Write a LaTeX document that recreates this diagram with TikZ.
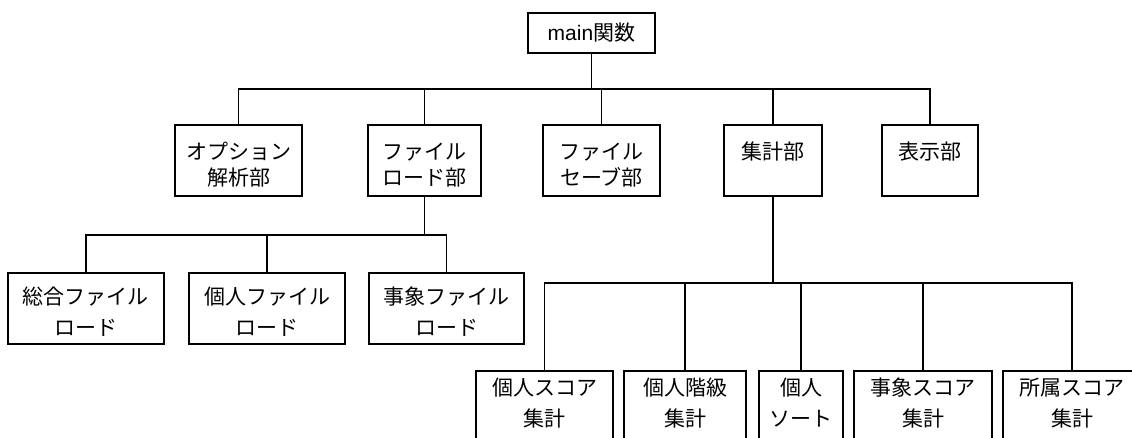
\documentclass[tikz,border=0pt]{standalone}
\usepackage{fontspec}
\setmainfont{Liberation Sans}
\newfontfamily\cjk{Noto Sans CJK JP}
\usetikzlibrary{calc,positioning}

\tikzset{
  box/.style={draw, line width=1.8pt, inner sep=0pt, align=center},
  upper/.style={box, minimum height=71pt, text height=60pt, text depth=9.4pt,
    font=\cjk\fontsize{21}{26}\selectfont},
  lower/.style={box, minimum height=71pt, text height=62pt, text depth=7.8pt,
    font=\cjk\fontsize{21}{31}\selectfont},
  bottom/.style={lower, minimum height=72pt, text height=54pt, text depth=16pt},
  wire/.style={line width=1.8pt},
}

\begin{document}
\begin{tikzpicture}[x=1pt,y=-1pt]
\useasboundingbox (0,0) rectangle (1132,437);
% top
\node[box, minimum width=127pt, minimum height=40pt, font=\fontsize{21}{25}\selectfont] (main) at (591.5,33) {main{\cjk 関数}};
% level 1
\node[upper, minimum width=127pt] (opt)   at (238.5,160.5) {オプション\\解析部};
\node[upper, minimum width=113pt] (fload) at (424.5,160.5) {ファイル\\ロード部};
\node[upper, minimum width=117pt] (fsave) at (601.5,160.5) {ファイル\\セーブ部};
\node[upper, minimum width=98pt]  (agg)   at (773,160.5)   {集計部\\~};
\node[upper, minimum width=96pt]  (disp)  at (930,160.5)   {表示部\\~};
% level 2
\node[lower, minimum width=156pt] (ldall) at (86,308.5)    {総合ファイル\\ロード};
\node[lower, minimum width=156pt] (ldper) at (267,308.5)   {個人ファイル\\ロード};
\node[lower, minimum width=155pt] (ldevt) at (446.5,308.5) {事象ファイル\\ロード};
% level 3
\node[bottom, minimum width=137pt] (perscore) at (544.5,407) {個人スコア\\集計};
\node[bottom, minimum width=122pt] (perrank)  at (685,407)   {個人階級\\集計};
\node[bottom, minimum width=84pt]  (persort)  at (801,407)   {個人\\ソート};
\node[bottom, minimum width=138pt] (evtscore) at (923,407)   {事象スコア\\集計};
\node[bottom, minimum width=138pt] (grpscore) at (1072,407)  {所属スコア\\集計};

% connectors
\coordinate (bus1) at (591.5,89);
\coordinate (bus2) at (424.5,235);
\coordinate (bus3) at (773,283);
\draw[wire] (main.south) -- (bus1);
\draw[wire] (opt.north) |- (bus1) -| (disp.north);
\foreach \n in {fload,fsave,agg}
  \draw[wire] (\n.north) -- (\n.north |- bus1);
\draw[wire] (fload.south) -- (bus2);
\draw[wire] (ldall.north) |- (bus2) -| (ldevt.north);
\draw[wire] (ldper.north) -- (ldper.north |- bus2);
\draw[wire] (agg.south) -- (bus3);
\draw[wire] (perscore.north) |- (bus3) -| (grpscore.north);
\foreach \n in {perrank,persort,evtscore}
  \draw[wire] (\n.north) -- (\n.north |- bus3);
\end{tikzpicture}
\end{document}
